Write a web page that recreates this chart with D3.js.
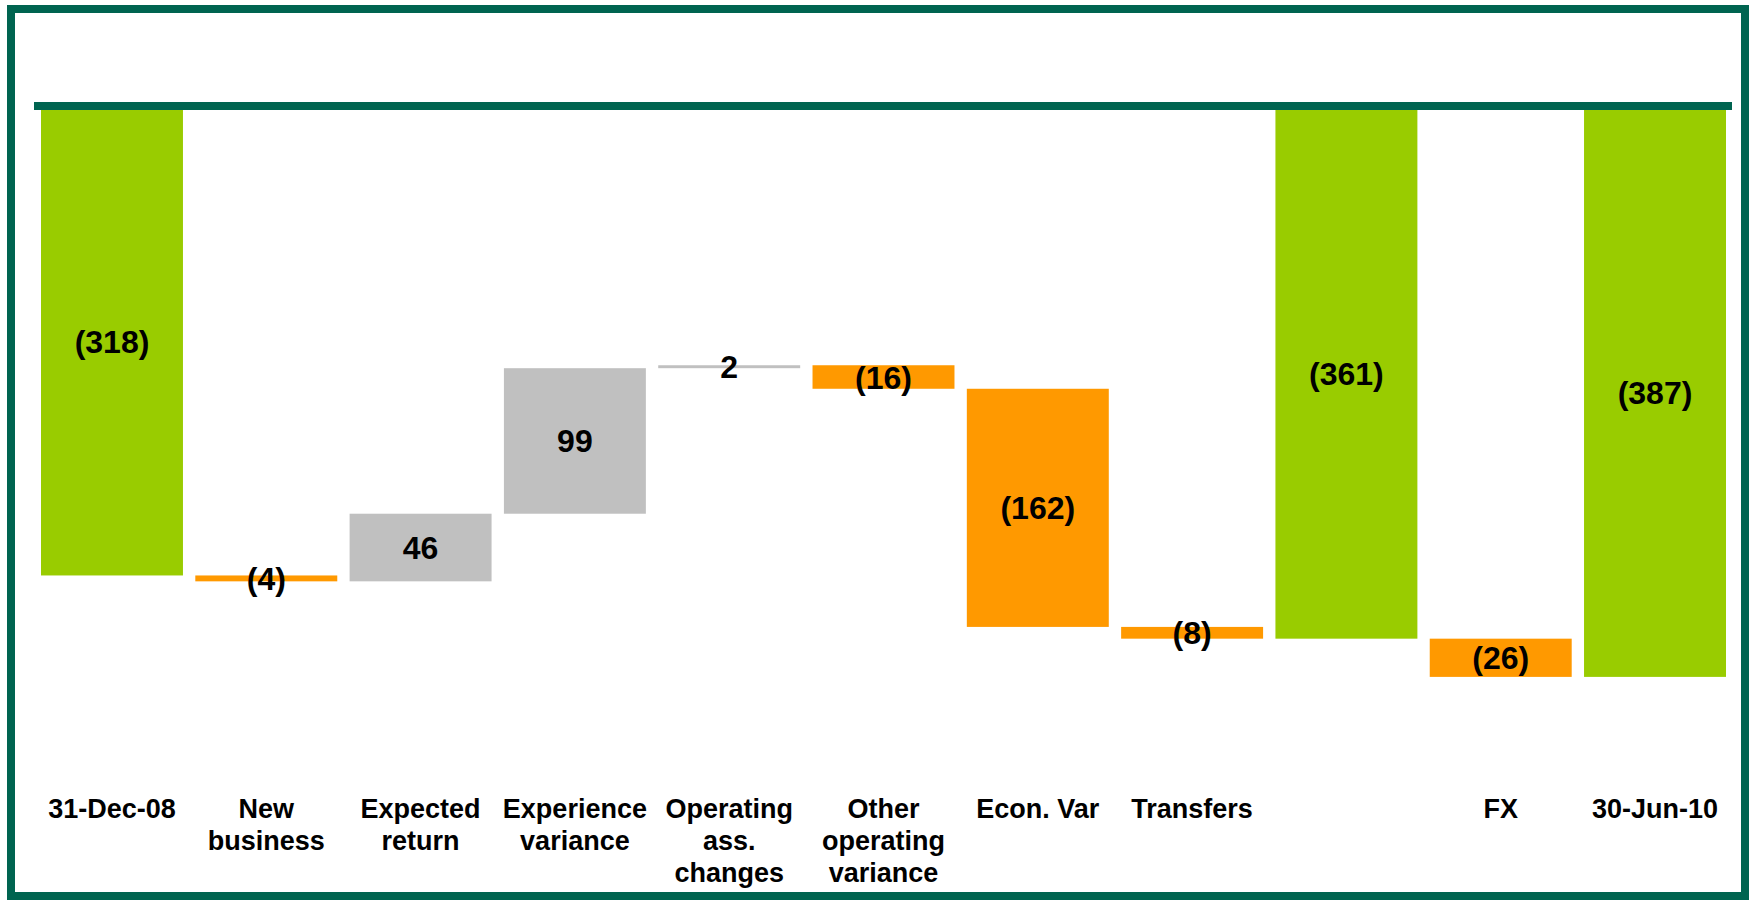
<!DOCTYPE html>
<html>
<head>
<meta charset="utf-8">
<script src="https://cdn.jsdelivr.net/npm/d3@7"></script>
<style>
  html, body { margin: 0; padding: 0; background: #fff; }
  svg { display: block; }
</style>
</head>
<body>
<div id="chart"></div>
<script>
// Data
const categories = ["31-Dec-08", "New business", "Expected return", "Experience variance",
    "Operating ass. changes", "Other operating variance", "Econ. Var", "Transfers", "", "FX", "30-Jun-10"];
// how each category label breaks into lines
const labelLines = [["31-Dec-08"], ["New", "business"], ["Expected", "return"], ["Experience", "variance"],
    ["Operating", "ass.", "changes"], ["Other", "operating", "variance"], ["Econ. Var"], ["Transfers"], [], ["FX"], ["30-Jun-10"]];
const values = [-318, -4, 46, 99, 2, -16, -162, -8, -361, -26, -387];
const kinds = ["total", "delta", "delta", "delta", "delta", "delta", "delta", "delta", "total", "delta", "total"];
const valueLabels = ["(318)", "(4)", "46", "99", "2", "(16)", "(162)", "(8)", "(361)", "(26)", "(387)"];

const svgWidth = 1749;
const svgHeight = 900;

const colors = { total: "#99CC00", up: "#C0C0C0", down: "#FF9900" };
const frameColor = "#006450";

// build waterfall steps
let running = 0;
const bars = values.map((v, i) => {
    let start, end, color;
    if (kinds[i] === "total") {
        start = 0; end = v; running = v; color = colors.total;
    } else {
        start = running; end = running + v; running = end;
        color = v >= 0 ? colors.up : colors.down;
    }
    return { i, cat: categories[i], start, end, color, label: valueLabels[i] };
});

const svg = d3.select("#chart")
    .append("svg")
    .attr("width", svgWidth)
    .attr("height", svgHeight);

// Scales
const x = d3.scaleBand()
    .domain(d3.range(categories.length))
    .range([41, 1726])
    .paddingInner(0.08)
    .paddingOuter(0);

const y = d3.scaleLinear()
    .domain([0, -400])
    .range([108, 108 + 400 * 1.47]);

// Bars
svg.selectAll(".bar")
    .data(bars)
    .enter()
    .append("rect")
    .attr("class", "bar")
    .attr("x", d => x(d.i))
    .attr("y", d => y(Math.max(d.start, d.end)))
    .attr("width", x.bandwidth())
    .attr("height", d => Math.abs(y(d.start) - y(d.end)))
    .attr("fill", d => d.color);

// zero line across the top
svg.append("rect")
    .attr("x", 34)
    .attr("y", y(0) - 6)
    .attr("width", 1732 - 34)
    .attr("height", 8)
    .attr("fill", frameColor);

// Value labels
svg.selectAll(".val")
    .data(bars)
    .enter()
    .append("text")
    .attr("class", "val")
    .attr("x", d => x(d.i) + x.bandwidth() / 2)
    .attr("y", d => (y(d.start) + y(d.end)) / 2)
    .attr("dy", "0.36em")
    .attr("text-anchor", "middle")
    .style("font-family", "'Liberation Sans', Arial, sans-serif")
    .style("font-weight", "bold")
    .style("font-size", "32px")
    .attr("fill", "#000")
    .text(d => d.label);

// Category labels
const cat = svg.selectAll(".cat")
    .data(labelLines)
    .enter()
    .append("text")
    .attr("class", "cat")
    .attr("x", (d, i) => x(i) + x.bandwidth() / 2)
    .attr("y", 818)
    .attr("text-anchor", "middle")
    .style("font-family", "'Liberation Sans', Arial, sans-serif")
    .style("font-weight", "bold")
    .style("font-size", "27px")
    .attr("fill", "#000");

cat.selectAll("tspan")
    .data((d, i) => d.map(t => ({ t, i })))
    .enter()
    .append("tspan")
    .attr("x", d => x(d.i) + x.bandwidth() / 2)
    .attr("dy", (d, j) => j === 0 ? 0 : 32)
    .text(d => d.t);

// Outer frame
svg.append("rect")
    .attr("x", 11)
    .attr("y", 9)
    .attr("width", 1734)
    .attr("height", 887)
    .attr("fill", "none")
    .attr("stroke", frameColor)
    .attr("stroke-width", 8);
</script>
</body>
</html>
